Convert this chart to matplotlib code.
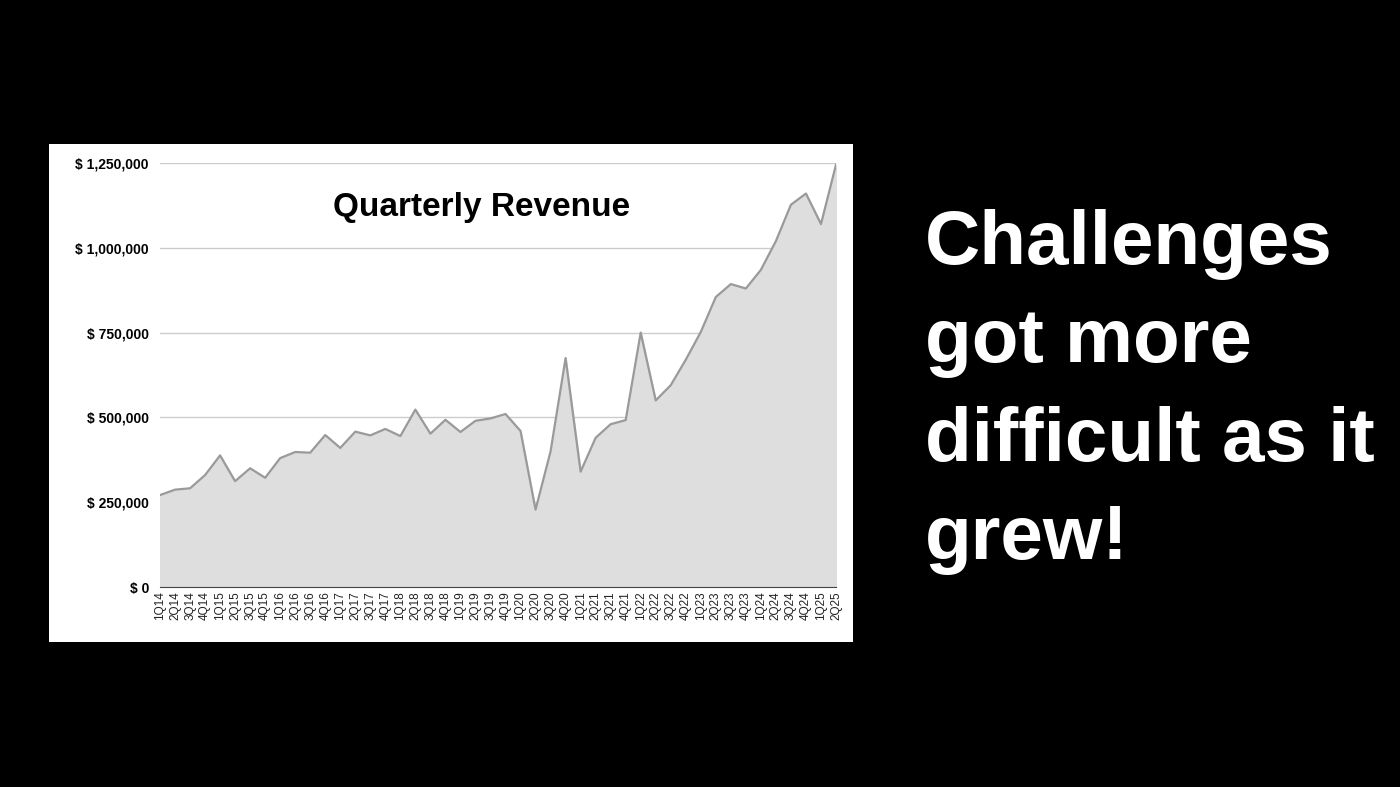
import matplotlib
matplotlib.use("Agg")
import matplotlib.pyplot as plt
from matplotlib.ticker import FuncFormatter

quarters = [f"{q}Q{y}" for y in range(14, 26) for q in range(1, 5)][:46]
revenue = [
    271000, 287000, 291000, 330000, 388000, 312000, 350000, 322000,
    380000, 398000, 396000, 448000, 410000, 458000, 447000, 466000,
    445000, 523000, 452000, 493000, 457000, 490000, 497000, 510000,
    460000, 228000, 400000, 675000, 340000, 440000, 480000, 492000,
    750000, 550000, 595000, 670000, 752000, 855000, 893000, 880000,
    935000, 1020000, 1127000, 1160000, 1070000, 1245000,
]
yticks = [0, 250000, 500000, 750000, 1000000, 1250000]

plt.rcParams["font.family"] = ["Liberation Sans", "DejaVu Sans"]

fig = plt.figure(figsize=(14, 7.87), dpi=100, facecolor="black")

# white card behind the chart
card = fig.add_axes([49 / 1400, 1 - 642 / 787, 804 / 1400, 498 / 787])
card.set_facecolor("white")
card.set_xticks([])
card.set_yticks([])
for s in card.spines.values():
    s.set_visible(False)

ax = fig.add_axes([160 / 1400, 1 - 587 / 787, 676 / 1400, 424 / 787])
ax.set_facecolor("white")
x = list(range(len(revenue)))
ax.fill_between(x, revenue, color="#dedede", zorder=2)
ax.plot(x, revenue, color="#9a9a9a", linewidth=1.6, zorder=3)
ax.set_xlim(0, len(revenue) - 1)
ax.set_ylim(0, 1250000)
ax.set_yticks(yticks)
ax.yaxis.set_major_formatter(FuncFormatter(lambda v, _: f"$ {int(v):,}"))
ax.tick_params(axis="y", length=0, labelsize=10, pad=8)
for lab in ax.get_yticklabels():
    lab.set_fontweight("bold")
ax.set_xticks(x)
ax.set_xticklabels(quarters, rotation=90, fontsize=8.5, color="#222222")
ax.tick_params(axis="x", length=0, pad=3)
ax.grid(axis="y", color="#cccccc", linewidth=1, zorder=1)
for name, s in ax.spines.items():
    s.set_visible(name == "bottom")
ax.spines["bottom"].set_color("#444444")
ax.text(0.475, 0.895, "Quarterly Revenue", transform=ax.transAxes,
        ha="center", va="center", fontsize=24, fontweight="bold", zorder=4)

fig.text(925 / 1400, 1 - 392 / 787,
         "Challenges\ngot more\ndifficult as it\ngrew!",
         color="white", fontsize=55, fontweight="bold",
         ha="left", va="center", linespacing=1.5)

fig.savefig("out.png", dpi=100, facecolor="black")
